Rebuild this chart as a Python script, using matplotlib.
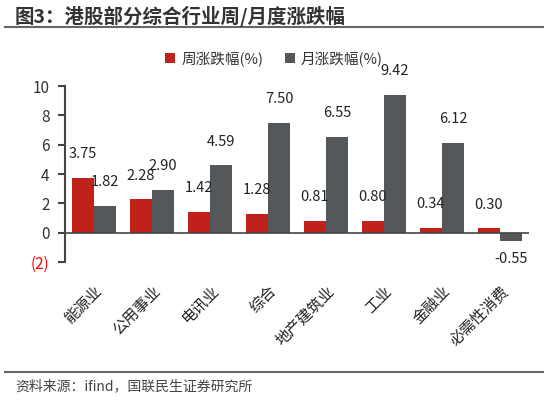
import matplotlib
matplotlib.use("Agg")
import matplotlib.pyplot as plt
import numpy as np

plt.rcParams['font.family'] = ['Noto Sans CJK SC', 'DejaVu Sans']

categories = ["能源业", "公用事业", "电讯业", "综合", "地产建筑业", "工业", "金融业", "必需性消费"]
weekly = [3.75, 2.28, 1.42, 1.28, 0.81, 0.80, 0.34, 0.30]
monthly = [1.82, 2.90, 4.59, 7.50, 6.55, 9.42, 6.12, -0.55]
yticks = [-2, 0, 2, 4, 6, 8, 10]
series_names = ["周涨跌幅(%)", "月涨跌幅(%)"]

red = "#C0221B"
gray = "#54585A"

fig = plt.figure(figsize=(5.48, 4.0), dpi=100)
ax = fig.add_axes([65/548, 1-262/400, (529-65)/548, (262-86)/400])

x = np.arange(len(categories))
w = 0.38
b1 = ax.bar(x - w/2, weekly, w, color=red, label=series_names[0])
b2 = ax.bar(x + w/2, monthly, w, color=gray, label=series_names[1])

for bars, vals in ((b1, weekly), (b2, monthly)):
    for r, v in zip(bars, vals):
        cx = r.get_x() + r.get_width()/2
        if v >= 0:
            ax.annotate(f"{v:.2f}", (cx, v), xytext=(0, 12), textcoords="offset points",
                        ha="center", va="bottom", fontsize=10.5, color="#222222")
        else:
            ax.annotate(f"{v:.2f}", (cx, v), xytext=(0, -8), textcoords="offset points",
                        ha="center", va="top", fontsize=10.5, color="#222222")

ax.set_xlim(-0.5, len(categories) - 0.5)
ax.set_ylim(-2, 10)
ax.set_yticks(yticks)
ylabels = [f"({abs(t)})" if t < 0 else f"{t}" for t in yticks]
ax.set_yticklabels(ylabels, fontsize=11)
for lab, t in zip(ax.get_yticklabels(), yticks):
    lab.set_color("red" if t < 0 else "#333333")
ax.tick_params(axis='y', direction='out', length=5, width=1.5, color="#444444", pad=6)
ax.set_xticks(x)
ax.set_xticklabels(categories, rotation=45, ha='right', rotation_mode='anchor', fontsize=11, color="#222222")
ax.tick_params(axis='x', length=0, pad=15)

for s in ("top", "right", "bottom"):
    ax.spines[s].set_visible(False)
ax.spines['left'].set_color("#444444")
ax.spines['left'].set_linewidth(1.5)
ax.axhline(0, color="#444444", lw=1.2)

fig.legend(handles=[b1, b2], labels=series_names, loc="center", bbox_to_anchor=(0.5, 1-59/400),
           ncol=2, frameon=False, fontsize=10.5, handlelength=0.7, handleheight=0.7,
           handletextpad=0.4, columnspacing=1.5, labelcolor="#333333")

fig.text(15/548, 1-16/400, "图3：港股部分综合行业周/月度涨跌幅", fontsize=14, fontweight='bold',
         color="#333333", va="center", ha="left")
fig.add_artist(plt.Line2D([5/548, 543/548], [1-27/400, 1-27/400], color="#666666", lw=1.5))
fig.add_artist(plt.Line2D([5/548, 543/548], [1-372/400, 1-372/400], color="#666666", lw=1.5))
fig.text(15/548, 1-386/400, "资料来源：ifind，国联民生证券研究所", fontsize=10, color="#444444",
         va="center", ha="left")

fig.savefig("out.png", dpi=100)
